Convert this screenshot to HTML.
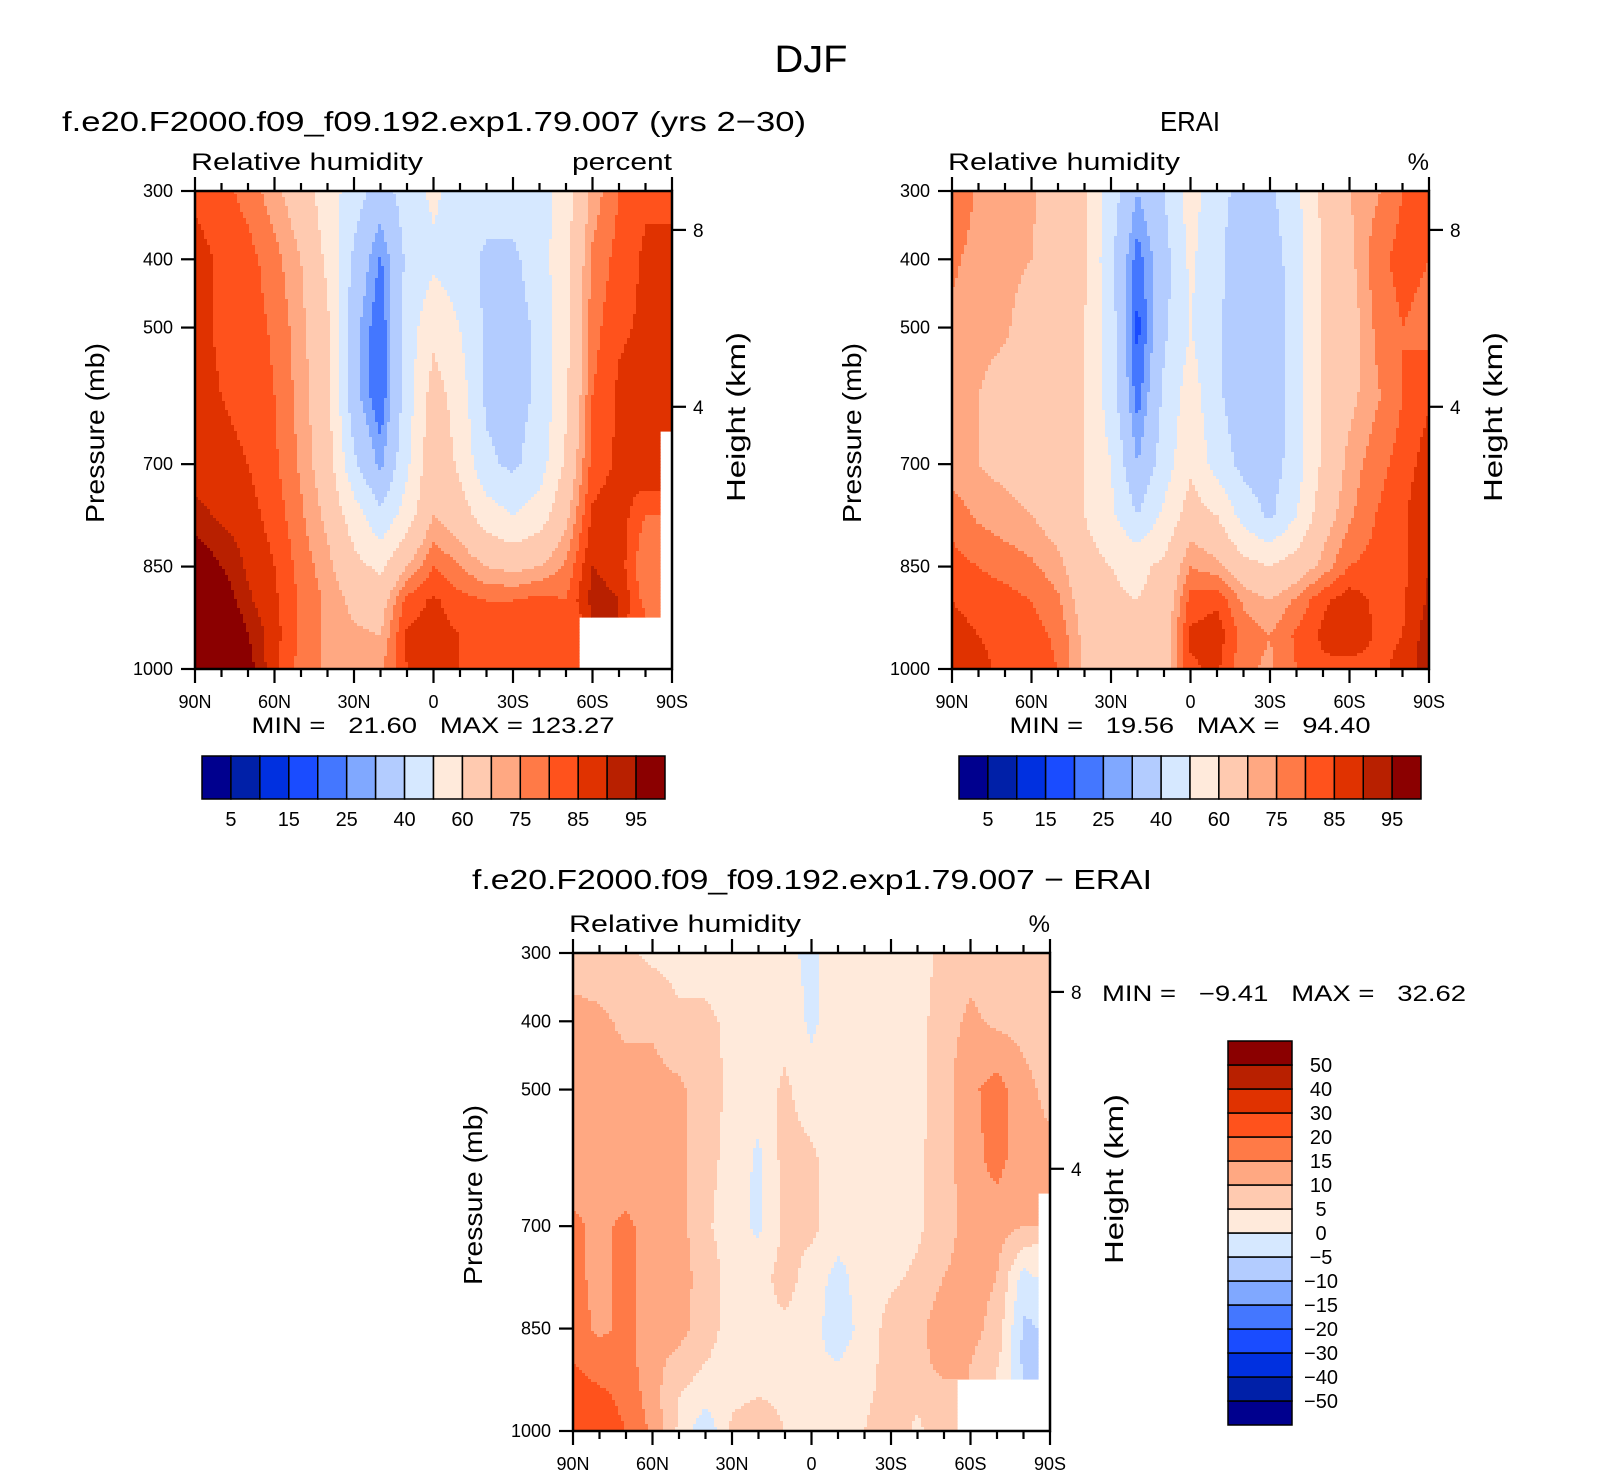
<!DOCTYPE html>
<html><head><meta charset="utf-8"><style>
html,body{margin:0;padding:0;background:#fff;}
svg{display:block;font-family:"Liberation Sans",sans-serif;}
</style></head><body>
<svg id="fig" width="1624" height="1476" viewBox="0 0 1624 1476" xmlns="http://www.w3.org/2000/svg">
<text x="811" y="72" font-size="38" text-anchor="middle" textLength="73" lengthAdjust="spacingAndGlyphs">DJF</text>
<text x="62" y="131" font-size="28" textLength="744" lengthAdjust="spacingAndGlyphs">f.e20.F2000.f09_f09.192.exp1.79.007 (yrs 2−30)</text>
<text x="1190" y="131" font-size="28" text-anchor="middle" textLength="60" lengthAdjust="spacingAndGlyphs">ERAI</text>
<text x="812" y="889" font-size="28" text-anchor="middle" textLength="680" lengthAdjust="spacingAndGlyphs">f.e20.F2000.f09_f09.192.exp1.79.007 − ERAI</text>
<g id="layer"></g>
</svg>
<script>
const lats=[90,80,70,60,50,40,30,20,10,0,-10,-20,-30,-40,-50,-60,-70,-80,-90];
const pRows=[300,400,500,600,700,775,850,900,950,1000];
const rhLevels=[5,10,15,20,25,30,40,50,60,70,75,80,85,90,95];
const rhLabels=["5","15","25","40","60","75","85","95"];
const diffLevels=[-50,-40,-30,-20,-15,-10,-5,0,5,10,15,20,30,40,50];
const pressureTicks=[300,400,500,700,850,1000];
const heightTicks=[{km:"8",p:357},{km:"4",p:616}];
const latTicks=[90,60,30,0,-30,-60,-90];
const latLabels=["90N","60N","30N","0","30S","60S","90S"];
const N=null;
const modelRH=[
[84,82,78,72,65,55,45,35,45,52,45,45,45,45,55,72,80,84,84],
[87,84,82,77,70,58,38,24,42,48,45,38,38,45,58,76,82,86,86],
[87,84,83,79,72,62,33,20,45,57,50,38,36,42,58,78,84,86,88],
[87,85,84,80,73,63,33,20,45,65,55,38,36,42,58,80,86,88,88],
[87,86,85,81,74,65,42,28,48,68,58,42,38,45,62,82,86,90,N],
[92,89,87,83,76,68,55,42,55,70,65,55,50,55,68,86,88,80,N],
[100,95,89,85,78,72,63,58,70,80,75,70,68,70,76,90,88,75,N],
[108,100,91,86,79,74,68,66,82,86,82,80,80,82,80,92,90,78,N],
[115,105,95,87,79,74,71,70,86,87,85,83,83,84,80,N,N,N,N],
[120,110,98,86,78,74,72,74,85,86,85,83,83,83,80,N,N,N,N]];
const obsRH=[
[80,74,72,71,66,62,45,30,40,55,42,38,38,48,62,70,74,80,84],
[76,73,72,70,66,62,42,22,36,52,42,35,35,45,62,68,78,82,80],
[74,72,71,66,65,60,45,18,38,50,42,33,33,45,62,66,76,80,78],
[72,70,67,65,65,60,45,22,42,55,42,33,33,45,62,68,74,80,84],
[72,70,68,66,65,60,50,30,45,58,46,37,35,45,62,72,78,82,88],
[78,74,72,70,66,60,52,40,52,65,60,46,38,50,66,74,80,84,90],
[82,80,78,76,72,64,60,58,62,75,72,64,60,65,72,80,82,84,90],
[85,83,82,80,76,66,61,60,63,82,84,74,70,76,84,88,84,84,91],
[87,85,84,82,79,68,62,62,65,86,88,78,75,81,86,90,84,85,93],
[88,86,84,82,80,68,62,62,66,84,86,76,74,80,84,82,84,86,94]];
const diffRH=[
[7,7,6,4,3,3,2,1,1,-1,2,2,0,2,7,8,8,7,7],
[12,11,9,9,6,6,4,3,3,-1,3,3,2,3,8,11,9,8,6],
[12,12,12,12,11,7,4,2,6,2,3,2,2,3,8,14,17,12,8],
[12,12,12,11,11,7,3,-1,7,6,2,2,3,4,8,13,17,12,12],
[16,14,16,13,12,6,2,-1,6,6,3,2,2,4,8,12,12,10,N],
[16,14,16,13,12,8,3,3,7,3,-2,3,4,6,10,12,10,-2,N],
[17,14,16,13,12,7,3,4,4,2,-3,2,7,8,14,12,8,-6,N],
[20,18,17,12,8,5,3,3,3,1,0,3,7,8,12,10,6,-6,N],
[22,21,19,12,5,2,4,5,4,1,1,4,7,6,8,N,N,N,N],
[22,22,20,14,4,-4,6,8,5,1,2,5,8,4,8,N,N,N,N]];
const colors=["#00008e","#0020a8","#0030e0","#1a4cff","#4477ff","#80a8ff","#b3ccff","#d6e8ff","#ffeadb","#ffcab0","#ffa882","#ff7a47","#ff521c","#e03200","#b82000","#8b0000"];

const NS="http://www.w3.org/2000/svg";
const layer=document.getElementById('layer');
function el(tag,attrs,parent){const e=document.createElementNS(NS,tag);for(const k in attrs)e.setAttribute(k,attrs[k]);(parent||layer).appendChild(e);return e;}
const W=477,H=478;
function mkX(x0){return lat=>x0+(90-lat)/180*W;}
function mkY(y0){return p=>y0+(p-300)/700*H;}
function levelIndex(v,levels){let i=0;for(const l of levels)if(v>=l)i++;return i;}
function sample(data,lat,p){
  let j=(90-lat)/10;let j0=Math.min(17,Math.floor(j));let fj=j-j0;
  let i=0;while(i<pRows.length-2&&p>pRows[i+1])i++;
  let fi=(p-pRows[i])/(pRows[i+1]-pRows[i]);
  const ni=fi<0.5?i:i+1,nj=fj<0.5?j0:j0+1;
  if(data[ni][nj]===null)return null;
  const c=[[data[i][j0],(1-fi)*(1-fj)],[data[i][j0+1],(1-fi)*fj],[data[i+1][j0],fi*(1-fj)],[data[i+1][j0+1],fi*fj]];
  let s=0,w=0;for(const [v,ww] of c){if(v!==null){s+=v*ww;w+=ww;}}
  if(w===0)return null;
  if(w<1){let s2=0,n=0;for(const [v] of c)if(v!==null){s2+=v;n++;}return (s+(1-w)*s2/n);}
  return s;
}
function drawPanel(cfg){
  const g=el('g',{});
  
  
  const X=mkX(cfg.x0),Y=mkY(cfg.y0);
  const st=3;
  for(let py=0;py<H;py+=st){
    const p=300+(py+st/2)/H*700;
    let runStart=0,runIdx=-2;
    const flush=(endPx)=>{
      if(runIdx>=0){
        const r=el('rect',{x:cfg.x0+runStart,y:cfg.y0+py,width:endPx-runStart+0.6,height:Math.min(st,H-py)+0.6,fill:colors[runIdx]},g);
        
        
      }
    };
    for(let px=0;px<W;px+=st){
      const lat=90-(px+st/2)/W*180;
      const v=sample(cfg.data,lat,p);
      const idx=v===null?-1:levelIndex(v,cfg.levels);
      if(idx!==runIdx){flush(px);runStart=px;runIdx=idx;}
    }
    flush(W);
  }
  const fr=el('rect',{x:cfg.x0,y:cfg.y0,width:W,height:H,fill:'none',stroke:'#000','stroke-width':2.5});
  
  
  for(let lat=90;lat>=-90;lat-=10){
    const major=lat%30===0,len=major?14:8,x=X(lat);
    const t1=el('line',{x1:x,x2:x,y1:cfg.y0+H,y2:cfg.y0+H+len,stroke:'#000','stroke-width':2.2});
    
    
    const t2=el('line',{x1:x,x2:x,y1:cfg.y0,y2:cfg.y0-len,stroke:'#000','stroke-width':2.2});
    
    
  }
  latTicks.forEach((lat,k)=>{
    const t=el('text',{x:X(lat),y:cfg.y0+H+39,'font-size':18,'text-anchor':'middle'});
    t.textContent=latLabels[k];
    
    
  });
  pressureTicks.forEach(p=>{
    const y=Y(p);
    const l=el('line',{x1:cfg.x0-14,x2:cfg.x0,y1:y,y2:y,stroke:'#000','stroke-width':2.2});
    
    
    const t=el('text',{x:cfg.x0-22,y:y+6,'font-size':18,'text-anchor':'end'});
    t.textContent=String(p);
    
    
  });
  heightTicks.forEach(h=>{
    const y=Y(h.p),xr=cfg.x0+W;
    const l=el('line',{x1:xr,x2:xr+14,y1:y,y2:y,stroke:'#000','stroke-width':2.2});
    
    
    const t=el('text',{x:xr+21,y:y+7,'font-size':19});
    t.textContent=h.km;
    
    
  });
  const yt=el('text',{x:0,y:0,'font-size':26,'text-anchor':'middle',transform:`translate(${cfg.x0-91},${cfg.y0+242}) rotate(-90)`,textLength:180,lengthAdjust:'spacingAndGlyphs'});
  yt.textContent='Pressure (mb)';
  
  
  const ht=el('text',{x:0,y:0,'font-size':26,'text-anchor':'middle',transform:`translate(${cfg.x0+W+73},${cfg.y0+226}) rotate(-90)`,textLength:170,lengthAdjust:'spacingAndGlyphs'});
  ht.textContent='Height (km)';
  
  
  const vt=el('text',{x:cfg.x0-4,y:cfg.y0-21,'font-size':24,textLength:232,lengthAdjust:'spacingAndGlyphs'});
  vt.textContent='Relative humidity';
  
  
  const ut=el('text',{x:cfg.x0+W,y:cfg.y0-21,'font-size':24,'text-anchor':'end'});
  ut.textContent=cfg.units;
  if(cfg.units==='percent'){ut.setAttribute('textLength',100);ut.setAttribute('lengthAdjust','spacingAndGlyphs');}
  
  
  const mm=el('text',{x:cfg.mmx,y:cfg.mmy,'font-size':22,'text-anchor':cfg.mmAnchor,style:'white-space:pre',textLength:cfg.mmw,lengthAdjust:'spacingAndGlyphs'});
  mm.textContent=cfg.mmText;
  
  
}
drawPanel({name:'model-panel',x0:195,y0:191,data:modelRH,levels:rhLevels,units:'percent',mmx:433,mmy:733,mmAnchor:'middle',mmw:363,mmText:'MIN =   21.60   MAX = 123.27'});
drawPanel({name:'obs-panel',x0:952,y0:191,data:obsRH,levels:rhLevels,units:'%',mmx:1190,mmy:733,mmAnchor:'middle',mmw:361,mmText:'MIN =   19.56   MAX =   94.40'});
drawPanel({name:'diff-panel',x0:573,y0:953,data:diffRH,levels:diffLevels,units:'%',mmx:1102,mmy:1001,mmAnchor:'start',mmw:364,mmText:'MIN =   −9.41   MAX =   32.62'});

function hBar(name,x0,y0,w,h){
  const bw=w/16;
  colors.forEach((c,i)=>{
    const r=el('rect',{x:x0+i*bw,y:y0,width:bw,height:h,fill:c,stroke:'#000','stroke-width':1.5});
    
    
  });
  rhLabels.forEach((lab,k)=>{
    const t=el('text',{x:x0+(2*k+1)*bw,y:y0+h+27,'font-size':20,'text-anchor':'middle'});
    t.textContent=lab;
    
    
  });
}
hBar('model-colorbar',202,756,463,43);
hBar('obs-colorbar',959,756,462,43);
(function(){
  const x0=1228,y0=1041,w=64,h=384,bh=h/16;
  colors.forEach((c,i)=>{
    const r=el('rect',{x:x0,y:y0+(15-i)*bh,width:w,height:bh,fill:c,stroke:'#000','stroke-width':1.5});
    
    
  });
  diffLevels.forEach((lv,i)=>{
    const y=y0+(15-i)*bh;
    const t=el('text',{x:1321,y:y+7,'font-size':20,'text-anchor':'middle'});
    t.textContent=(lv<0?'−':'')+Math.abs(lv);
    
    
  });
})();
</script>
</body></html>
